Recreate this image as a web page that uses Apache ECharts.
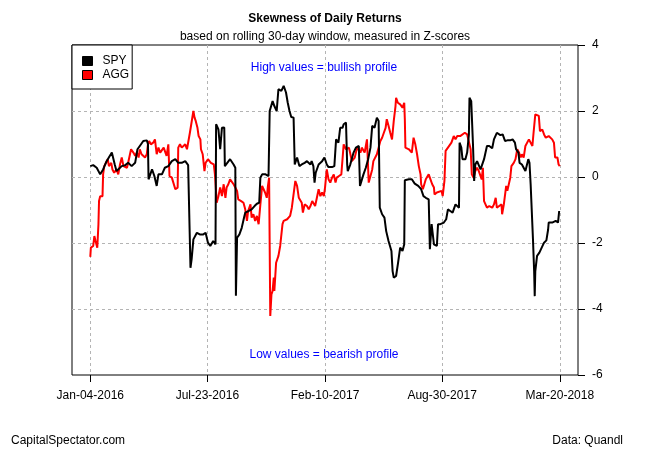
<!DOCTYPE html>
<html>
<head>
<meta charset="utf-8">
<script src="https://cdn.jsdelivr.net/npm/echarts@6/dist/echarts.min.js"></script>
<style>
html,body{margin:0;padding:0;background:#fff;}
#chart{width:650px;height:450px;}
</style>
</head>
<body>
<div id="chart"></div>
<script>
// Days counted from Jan-04-2016
const tickDays = [0, 201, 403, 604, 806];
const tickLabels = ['Jan-04-2016', 'Jul-23-2016', 'Feb-10-2017', 'Aug-30-2017', 'Mar-20-2018'];
const yTicks = [-6, -4, -2, 0, 2, 4];

const spyDays = [0,5,11,17,22,28,37,42,45,48,54,60,65,71,77,81,85,91,97,99,100,103,106,110,114,117,123,128,134,140,146,151,157,163,168,171,172,174,177,183,188,194,198,202,206,211,215,216,220,223,226,229,230,231,234,240,246,249,250,252,256,260,264,266,272,277,282,286,290,292,295,297,301,306,308,311,313,316,320,323,328,332,336,339,342,345,349,350,351,355,359,363,368,372,378,380,383,385,387,392,398,402,406,409,415,419,422,426,429,433,435,439,440,441,442,446,452,456,461,463,466,469,473,477,481,484,488,492,495,496,497,501,505,508,512,517,519,521,525,528,532,536,539,540,547,552,557,563,568,572,576,581,582,583,586,588,590,595,596,597,601,607,611,614,618,622,627,630,633,634,637,639,644,647,650,651,654,657,659,661,664,667,670,673,676,678,681,685,690,693,696,698,701,704,708,712,716,721,725,729,731,735,737,741,744,747,749,752,754,756,759,760,762,763,764,767,771,775,779,783,786,787,793,799,803,805,806];
const spyValues = [0.33,0.36,0.28,0.08,0.23,0.48,0.74,0.38,0.18,0.13,0.33,0.36,0.43,0.33,0.43,0.84,0.94,1.09,1.11,1.0,-0.07,0.08,0.23,0.03,-0.27,0.08,0.08,0.28,0.33,0.48,0.54,0.43,0.43,0.48,0.36,0.36,-2.75,-2.49,-1.89,-1.69,-1.74,-1.74,-1.69,-1.99,-2.09,-1.94,-2.04,1.6,1.44,0.84,1.49,1.55,1.5,0.33,0.33,0.54,0.38,0.28,-3.6,-1.84,-1.74,-1.54,-1.23,-1.08,-1.03,-0.98,-0.88,-0.81,-0.78,-0.02,0.08,0.03,0.08,0.03,2.0,2.05,2.3,2.15,2.0,2.66,2.61,2.76,2.56,2.25,2.0,1.82,1.8,1.8,0.38,0.59,0.33,0.38,0.43,0.48,0.38,0.48,0.33,-0.17,0.13,0.38,0.48,0.59,0.38,0.3,0.3,0.33,1.14,1.04,1.49,1.49,1.6,1.65,1.6,0.38,0.18,0.36,0.74,0.89,0.94,-0.27,-0.22,0.08,0.28,0.54,0.89,1.55,1.49,1.8,1.7,1.7,-0.93,-1.13,-1.23,-1.64,-1.94,-2.24,-2.85,-3.05,-3.0,-2.65,-2.14,-2.24,-2.04,-0.1,-0.07,-0.07,-0.2,-0.27,-0.37,-0.58,-0.63,-0.68,-0.68,-2.19,-1.43,-1.38,-2.04,-2.09,-2.09,-1.43,-1.43,-1.38,-1.28,-0.98,-1.03,-1.08,-0.83,-0.88,-0.93,1.04,0.89,0.54,0.54,0.74,1.29,2.4,2.3,0.99,-0.12,0.38,0.48,0.48,0.23,0.18,0.54,0.59,0.94,0.94,0.87,1.14,1.19,1.34,1.39,1.27,1.29,1.09,1.11,1.11,1.14,1.04,0.84,0.74,0.43,0.38,0.33,0.18,0.13,0.54,0.43,-0.22,-0.22,-1.89,-2.85,-3.61,-2.85,-2.39,-2.29,-2.14,-1.99,-1.92,-1.59,-1.38,-1.38,-1.33,-1.38,-1.03,-1.03];

const aggDays = [0,1,5,7,9,12,14,15,17,21,22,24,26,30,32,36,38,41,45,48,51,54,57,60,63,65,70,74,77,80,83,85,88,91,94,97,99,101,104,108,111,112,114,117,120,123,126,128,131,134,136,140,143,146,148,150,151,154,157,160,163,166,169,171,174,177,179,181,184,186,189,190,193,196,198,202,204,207,212,214,216,217,220,223,226,229,232,234,237,240,243,246,249,252,254,259,263,266,269,271,275,277,280,283,286,289,292,295,297,300,303,305,307,309,311,313,315,316,319,320,323,326,329,330,332,335,338,343,346,349,352,355,358,360,363,365,368,372,375,378,381,383,386,389,392,395,398,401,403,406,409,412,415,418,421,423,427,431,435,439,444,446,449,454,458,461,464,466,471,475,477,478,481,484,486,489,492,495,498,501,504,507,509,512,515,518,521,524,525,528,532,536,539,540,541,547,549,552,555,558,561,564,567,568,571,574,576,581,584,587,590,591,595,598,603,605,608,610,614,617,620,624,627,630,633,635,638,643,645,647,650,653,655,658,661,664,667,672,674,676,678,681,685,690,693,696,698,702,706,707,710,712,714,716,718,721,723,727,730,733,736,739,741,744,747,750,753,756,759,761,764,767,770,772,776,779,782,784,787,790,793,796,798,802,804,806];
const aggValues = [-2.42,-2.14,-2.09,-1.79,-1.94,-2.14,-1.43,-0.73,-0.58,-0.58,0.08,0.33,0.28,0.54,0.33,0.43,0.23,0.13,0.23,0.08,0.38,0.59,0.33,0.38,0.28,0.43,0.84,0.74,0.64,0.74,0.59,0.84,0.69,0.74,0.59,0.69,0.99,1.09,0.99,1.04,1.14,1.19,0.69,0.89,0.74,0.79,0.89,0.84,0.64,0.99,0.03,-0.02,-0.02,-0.37,-0.42,-0.32,0.89,0.99,0.89,0.84,0.99,0.84,0.89,1.34,1.34,2.0,1.8,1.7,1.49,1.24,1.14,0.84,0.69,0.18,0.43,0.54,0.59,0.43,0.38,0.08,-0.47,-0.78,-0.58,-0.32,-0.58,-0.22,-0.63,-0.32,-0.22,-0.07,-0.02,-0.22,-0.32,-0.42,-0.68,-0.73,-0.78,-0.98,-1.33,-1.03,-0.83,-1.23,-1.13,-1.33,-1.18,-1.43,-0.83,-0.27,-0.32,-0.47,-0.63,-0.27,-0.02,-4.21,-3.56,-3.45,-3.05,-3.45,-2.6,-2.65,-2.39,-2.09,-2.04,-1.43,-1.33,-1.33,-1.28,-1.18,-0.93,-0.98,-0.12,-0.27,-0.63,-0.58,-0.78,-1.08,-0.83,-0.88,-0.98,-0.88,-0.73,-0.73,-0.88,-0.63,-0.37,-0.58,-0.47,-0.58,-0.32,0.23,-0.07,-0.17,-0.02,0.08,-0.17,-0.02,0.03,0.08,0.99,0.84,0.89,0.74,0.48,0.59,0.89,0.89,0.74,0.89,0.74,1.14,1.09,-0.17,-0.12,0.23,0.48,0.54,0.69,0.74,1.09,1.19,1.34,1.49,1.75,1.55,1.34,1.14,1.7,2.15,2.4,2.25,2.2,2.1,2.25,1.75,0.89,0.84,0.89,0.74,1.19,0.99,0.69,0.33,0.08,-0.22,-0.37,-0.32,-0.07,0.08,-0.07,-0.22,-0.32,-0.53,-0.47,-0.53,-0.42,-0.58,-0.12,0.79,0.89,0.94,1.04,1.24,1.14,1.24,1.19,1.24,1.29,1.34,1.39,1.29,1.34,0.84,0.08,-0.02,0.18,0.28,0.18,-0.07,0.28,-0.73,-0.73,-0.93,-0.88,-0.93,-0.83,-0.63,-0.93,-0.88,-0.83,-1.13,-0.83,-0.78,-0.27,-0.42,-0.47,-0.02,0.33,0.43,0.54,0.84,0.74,0.59,0.69,0.59,0.94,0.89,1.14,1.09,0.94,1.34,1.9,1.9,1.85,1.39,1.44,1.29,1.19,1.14,1.24,1.19,1.14,1.04,0.59,0.59,0.38,0.33];

const FONT = '"Liberation Sans", Arial, sans-serif';
const toPairs = (xs, ys) => xs.map((d, i) => [d, ys[i]]);

const chart = echarts.init(document.getElementById('chart'), null, {renderer: 'canvas'});
chart.setOption({
  animation: false,
  backgroundColor: '#ffffff',
  textStyle: {fontFamily: FONT},
  title: [
    {text: 'Skewness of Daily Returns', left: 'center', top: 12, padding: 0,
     textStyle: {fontSize: 12, fontWeight: 'bold', color: '#000', fontFamily: FONT, lineHeight: 14}},
    {text: 'based on rolling 30-day window, measured in Z-scores', left: 'center', top: 30, padding: 0,
     textStyle: {fontSize: 12, fontWeight: 'normal', color: '#000', fontFamily: FONT, lineHeight: 14}}
  ],
  legend: {
    orient: 'vertical', left: 72, top: 45,
    padding: [10, 3, 8, 10],
    borderColor: '#000', borderWidth: 1, borderRadius: 0,
    backgroundColor: '#fff',
    itemWidth: 10, itemHeight: 9, itemGap: 2,
    icon: 'rect',
    textStyle: {fontSize: 12, color: '#000', fontFamily: FONT, padding: [0, 0, 0, 5]},
    data: [
      {name: 'SPY', itemStyle: {color: '#000', borderColor: '#000', borderWidth: 1}},
      {name: 'AGG', itemStyle: {color: '#ff0000', borderColor: '#000', borderWidth: 1}}
    ]
  },
  grid: {left: 72, top: 45, width: 506, height: 330, show: true, borderColor: '#000', borderWidth: 1, backgroundColor: 'transparent'},
  xAxis: {
    type: 'value', min: -31.4, max: 837.3,
    axisLine: {show: false, onZero: false},
    axisTick: {show: true, customValues: tickDays, length: 7, lineStyle: {color: '#000'}},
    axisLabel: {customValues: tickDays, margin: 15, fontSize: 12, color: '#000', fontFamily: FONT,
      formatter: v => tickLabels[tickDays.indexOf(v)] || ''},
    splitLine: {show: true, lineStyle: {color: '#b4b4b4', type: [3, 3], width: 1}}
  },
  yAxis: [
    {
      type: 'value', position: 'right', min: -6, max: 4, interval: 2,
      axisLine: {show: false, onZero: false},
      axisTick: {show: true, customValues: yTicks, length: 7, lineStyle: {color: '#000'}},
      axisLabel: {customValues: yTicks, margin: 14, fontSize: 12, color: '#000', align: 'left', fontFamily: FONT},
      splitLine: {show: false}
    },
    {
      type: 'value', position: 'left', min: -6, max: 4,
      axisLine: {show: false, onZero: false},
      axisTick: {show: false, customValues: [-4, -2, 0, 2]},
      axisLabel: {show: false},
      splitLine: {show: true, lineStyle: {color: '#b4b4b4', type: [3, 3], width: 1}}
    }
  ],
  series: [
    {name: 'SPY', type: 'line', yAxisIndex: 0, data: toPairs(spyDays, spyValues), showSymbol: false,
     lineStyle: {color: '#000', width: 2}, itemStyle: {color: '#000'}, z: 3},
    {name: 'AGG', type: 'line', yAxisIndex: 0, data: toPairs(aggDays, aggValues), showSymbol: false,
     lineStyle: {color: '#ff0000', width: 2}, itemStyle: {color: '#ff0000'}, z: 2}
  ],
  graphic: [
    {type: 'text', x: 324, y: 68, style: {text: 'High values = bullish profile', fill: '#0000ff',
      font: '12px ' + FONT, textAlign: 'center', textVerticalAlign: 'middle', align: 'center', verticalAlign: 'middle'}},
    {type: 'text', x: 324, y: 355, style: {text: 'Low values = bearish profile', fill: '#0000ff',
      font: '12px ' + FONT, textAlign: 'center', textVerticalAlign: 'middle', align: 'center', verticalAlign: 'middle'}},
    {type: 'text', x: 11, y: 441, style: {text: 'CapitalSpectator.com', fill: '#000',
      font: '12px ' + FONT, textAlign: 'left', textVerticalAlign: 'middle', align: 'left', verticalAlign: 'middle'}},
    {type: 'text', x: 623, y: 441, style: {text: 'Data: Quandl', fill: '#000',
      font: '12px ' + FONT, textAlign: 'right', textVerticalAlign: 'middle', align: 'right', verticalAlign: 'middle'}}
  ]
});
</script>
</body>
</html>
